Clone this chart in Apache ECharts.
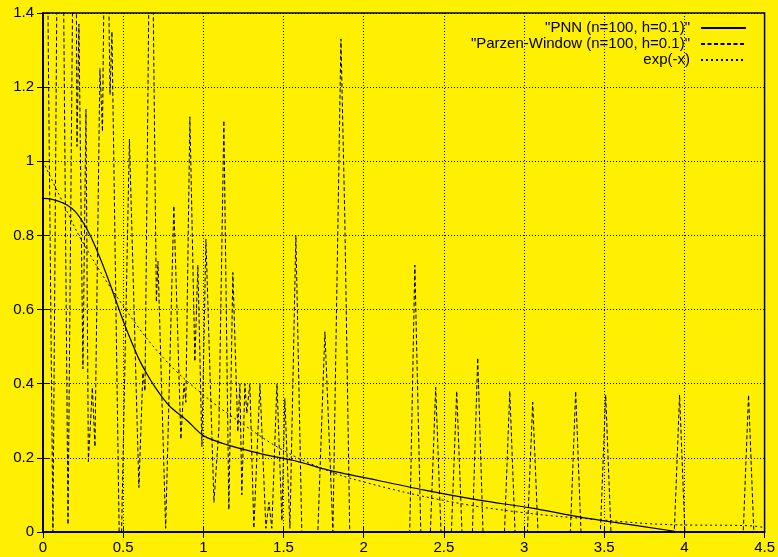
<!DOCTYPE html>
<html>
<head>
<meta charset="utf-8">
<script src="https://cdn.jsdelivr.net/npm/echarts@6/dist/echarts.min.js"></script>
<style>
  html, body { margin: 0; padding: 0; background: #ffef00; }
  #main { width: 778px; height: 557px; }
</style>
</head>
<body>
<div id="main"></div>
<script>
// values
var xTicks = [0, 0.5, 1, 1.5, 2, 2.5, 3, 3.5, 4, 4.5];
var yTicks = [0, 0.2, 0.4, 0.6, 0.8, 1, 1.2, 1.4];

var pnnX = [0, 0.05, 0.1, 0.15, 0.2, 0.25, 0.3, 0.35, 0.4, 0.45, 0.5, 0.55, 0.6, 0.65, 0.7, 0.75, 0.8, 0.9, 1.0, 1.15, 1.37, 1.59, 1.78, 1.99, 2.38, 2.72, 3.04, 3.35, 3.5, 3.97];
var pnnY = [0.9, 0.898, 0.892, 0.882, 0.865, 0.835, 0.795, 0.745, 0.69, 0.63, 0.57, 0.515, 0.465, 0.425, 0.39, 0.36, 0.335, 0.30, 0.26, 0.235, 0.21, 0.19, 0.167, 0.148, 0.113, 0.086, 0.065, 0.04, 0.03, 0];

var parzenX = [0, 0.015, 0.033, 0.062, 0.106, 0.156, 0.2, 0.212, 0.224, 0.249, 0.268, 0.283, 0.308, 0.324, 0.355, 0.371, 0.393, 0.418, 0.43, 0.475,
    0.49, 0.539, 0.598, 0.623, 0.636, 0.673, 0.707, 0.717, 0.765, 0.816, 0.86, 0.879, 0.891, 0.916, 0.947, 0.966, 0.991, 1.016, 1.066, 1.097,
    1.128, 1.159, 1.184, 1.215, 1.228, 1.24, 1.259, 1.271, 1.29, 1.315, 1.353, 1.39, 1.409, 1.427, 1.459, 1.49, 1.508, 1.54, 1.577, 1.614,
    1.714, 1.758, 1.808, 1.858, 1.882, 1.913, 2.287, 2.319, 2.356, 2.416, 2.449, 2.482, 2.547, 2.58, 2.613, 2.678, 2.711, 2.744, 2.878, 2.911,
    2.944, 3.021, 3.054, 3.087, 3.289, 3.322, 3.355, 3.476, 3.509, 3.542, 3.937, 3.97, 4.003, 4.367, 4.4, 4.433, 4.5];
var parzenY = [1.7, 2.3, 1.3, 0, 2.6, 0.02, 2.2, 1.04, 1.37, 0.44, 1.14, 0.19, 0.39, 0.23, 1.25, 1.08, 2.0, 1.18, 1.35, 0,
    0, 1.06, 0.12, 0.43, 0.38, 2.0, 0.62, 0.73, 0.01, 0.88, 0.25, 0.40, 0.35, 1.12, 0.46, 0.72, 0.23, 0.79, 0.08, 0.28,
    1.11, 0.06, 0.70, 0.27, 0.40, 0.10, 0.40, 0.32, 0.40, 0.01, 0.40, 0.01, 0.08, 0.01, 0.40, 0.03, 0.36, 0.01, 0.80, 0,
    0, 0.54, 0, 1.33, 0.85, 0, 0, 0.72, 0, 0, 0.39, 0, 0, 0.38, 0, 0, 0.47, 0, 0, 0.38,
    0, 0, 0.35, 0, 0, 0.38, 0, 0, 0.37, 0, 0, 0.37, 0, 0, 0.37, 0, 0];

var expX = [0, 0.1, 0.25, 0.5, 0.75, 1, 1.25, 1.5, 1.75, 2, 2.5, 3, 3.5, 3.9, 4.4, 4.5];
var expY = [1.0, 0.91, 0.78, 0.61, 0.47, 0.37, 0.29, 0.22, 0.17, 0.135, 0.085, 0.052, 0.032, 0.02, 0.017, 0.012];

function pairs(xs, ys) {
    return xs.map(function (x, i) { return [x, ys[i]]; });
}

var font = "'Liberation Sans', Arial, sans-serif";
var gridLine = {show: true, lineStyle: {color: '#000', width: 1, type: [1, 2]}};

var chart = echarts.init(document.getElementById('main'));
chart.setOption({
    backgroundColor: '#ffef00',
    animation: false,
    grid: {left: 43, right: 13, top: 13, bottom: 25, show: true, borderColor: '#000', borderWidth: 1.5},
    legend: {
        orient: 'vertical', align: 'right', right: 26, top: 15,
        itemWidth: 45, itemHeight: 10, itemGap: 0,
        itemStyle: {opacity: 0},
        textStyle: {fontFamily: font, fontSize: 15, lineHeight: 16, color: '#000', padding: [0, 6, 0, 0]},
        data: ['"PNN (n=100, h=0.1)"', '"Parzen-Window (n=100, h=0.1)"', 'exp(-x)']
    },
    xAxis: [
        {
            type: 'value', min: xTicks[0], max: xTicks[xTicks.length - 1], interval: 0.5,
            axisLine: {show: true, lineStyle: {color: '#000', width: 1.5}},
            axisTick: {show: true, inside: true, length: 6, lineStyle: {color: '#000'}},
            axisLabel: {color: '#000', fontFamily: font, fontSize: 15, margin: 8},
            splitLine: gridLine
        },
        {
            type: 'value', position: 'top', min: xTicks[0], max: xTicks[xTicks.length - 1], interval: 0.5,
            axisLine: {show: true, lineStyle: {color: '#000', width: 1.5}},
            axisTick: {show: true, inside: true, length: 6, lineStyle: {color: '#000'}},
            axisLabel: {show: false}, splitLine: {show: false}
        }
    ],
    yAxis: [
        {
            type: 'value', min: yTicks[0], max: yTicks[yTicks.length - 1], interval: 0.2,
            axisLine: {show: true, lineStyle: {color: '#000', width: 1.5}},
            axisTick: {show: true, inside: true, length: 6, lineStyle: {color: '#000'}},
            axisLabel: {color: '#000', fontFamily: font, fontSize: 15, margin: 9},
            splitLine: gridLine
        },
        {
            type: 'value', position: 'right', min: yTicks[0], max: yTicks[yTicks.length - 1], interval: 0.2,
            axisLine: {show: true, lineStyle: {color: '#000', width: 1.5}},
            axisTick: {show: true, inside: true, length: 6, lineStyle: {color: '#000'}},
            axisLabel: {show: false}, splitLine: {show: false}
        }
    ],
    series: [
        {
            name: '"PNN (n=100, h=0.1)"', type: 'line', data: pairs(pnnX, pnnY),
            smooth: 0.3, showSymbol: false, symbol: 'none', clip: true,
            lineStyle: {color: '#000', width: 1.2, type: 'solid'}, itemStyle: {color: '#000'}
        },
        {
            name: '"Parzen-Window (n=100, h=0.1)"', type: 'line', data: pairs(parzenX, parzenY),
            showSymbol: false, symbol: 'none', clip: true,
            lineStyle: {color: '#000', width: 1, type: [4, 2.5]}, itemStyle: {color: '#000'}
        },
        {
            name: 'exp(-x)', type: 'line', data: pairs(expX, expY),
            smooth: 0.4, showSymbol: false, symbol: 'none', clip: true,
            lineStyle: {color: '#000', width: 1, type: [2, 3]}, itemStyle: {color: '#000'}
        }
    ]
});
</script>
</body>
</html>
